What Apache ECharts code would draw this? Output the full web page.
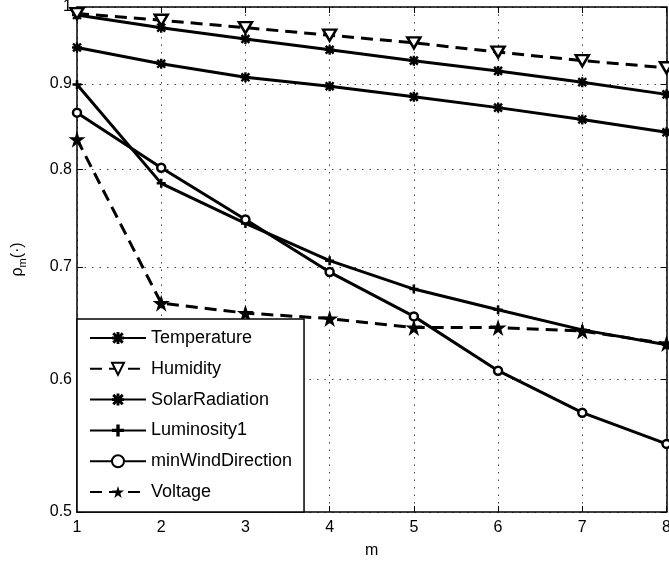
<!DOCTYPE html>
<html>
<head>
<meta charset="utf-8">
<script src="https://cdn.jsdelivr.net/npm/echarts@6/dist/echarts.min.js"></script>
<style>
  html, body { margin: 0; padding: 0; background: #fff; }
  #chart { width: 669px; height: 566px; }
</style>
</head>
<body>
<div id="chart"></div>
<script>
// Window length m on the horizontal axis
const ms = [1, 2, 3, 4, 5, 6, 7, 8];
// Labelled ticks of the logarithmic rho axis
const yTicks = [0.5, 0.6, 0.7, 0.8, 0.9, 1];

// rho_m values per sensor attribute
const temperature      = [0.989, 0.972, 0.957, 0.943, 0.929, 0.916, 0.902, 0.887];
const humidity         = [0.991, 0.982, 0.972, 0.962, 0.952, 0.940, 0.929, 0.920];
const solarRadiation   = [0.946, 0.925, 0.908, 0.897, 0.884, 0.871, 0.857, 0.842];
const luminosity1      = [0.899, 0.785, 0.743, 0.706, 0.679, 0.660, 0.642, 0.629];
const minWindDirection = [0.865, 0.802, 0.747, 0.695, 0.654, 0.607, 0.573, 0.549];
const voltage          = [0.834, 0.666, 0.657, 0.652, 0.644, 0.644, 0.641, 0.630];

const FONT = '"Liberation Sans", Arial, Helvetica, sans-serif';

// Marker shapes
const ASTERISK = 'path://M0,38L100,38L100,62L0,62Z M38,0L62,0L62,100L38,100Z M19,2L98,81L81,98L2,19Z M81,2L98,19L19,98L2,81Z';
const PLUS = 'path://M0,36L100,36L100,64L0,64Z M36,0L64,0L64,100L36,100Z';
const STAR = 'path://M50,0L61.2,34.5L97.6,34.5L68.2,55.9L79.4,90.5L50,69.1L20.6,90.5L31.8,55.9L2.4,34.5L38.8,34.5Z';

// Values are plotted on log10 so the vertical scale is logarithmic
const toLog = v => Math.log10(v);
const logTicks = yTicks.map(toLog);

function lineSeries(name, values, style) {
  return {
    name: name,
    type: 'line',
    data: ms.map((m, i) => [m, toLog(values[i])]),
    clip: false,
    animation: false,
    symbol: style.symbol,
    symbolSize: style.size,
    symbolRotate: style.rotate || 0,
    lineStyle: { color: '#000', width: 3, type: style.dashed ? [12, 7] : 'solid' },
    itemStyle: {
      color: style.hollow ? '#fff' : '#000',
      borderColor: '#000',
      borderWidth: style.hollow ? 2.5 : 0
    },
    emphasis: { disabled: true }
  };
}

const series = [
  lineSeries('Temperature', temperature, { symbol: ASTERISK, size: 10 }),
  lineSeries('Humidity', humidity, { symbol: 'triangle', size: [13, 11], rotate: 180, hollow: true, dashed: true }),
  lineSeries('SolarRadiation', solarRadiation, { symbol: ASTERISK, size: 10 }),
  lineSeries('Luminosity1', luminosity1, { symbol: PLUS, size: 9 }),
  lineSeries('minWindDirection', minWindDirection, { symbol: 'circle', size: 8, hollow: true }),
  lineSeries('Voltage', voltage, { symbol: STAR, size: 17, dashed: true })
];

const dotted = { show: true, lineStyle: { color: '#444', width: 1, type: [1.5, 6] } };
const insideTick = { show: true, inside: true, length: 6, lineStyle: { color: '#000', width: 1 } };
const axisLine = { show: true, onZero: false, lineStyle: { color: '#000', width: 1.5 } };

const chart = echarts.init(document.getElementById('chart'), null, { renderer: 'canvas' });
chart.setOption({
  animation: false,
  backgroundColor: '#fff',
  textStyle: { fontFamily: FONT },
  grid: { left: 77, right: 2.5, top: 7, bottom: 54, containLabel: false, outerBoundsMode: 'none' },
  legend: {
    orient: 'vertical',
    left: 77,
    top: 319,
    padding: [9, 12, 10, 12],
    itemWidth: 56,
    itemHeight: 15,
    itemGap: 10.8,
    backgroundColor: '#fff',
    borderColor: '#000',
    borderWidth: 1.5,
    borderRadius: 0,
    selectedMode: false,
    textStyle: { fontFamily: FONT, fontSize: 18, color: '#000', lineHeight: 20 },
    data: series.map(s => s.name)
  },
  xAxis: [
    {
      type: 'value', min: 1, max: 8, interval: 1,
      name: 'm', nameLocation: 'middle', nameGap: 31,
      nameTextStyle: { fontFamily: FONT, fontSize: 16, color: '#000' },
      axisLine: axisLine, axisTick: insideTick, splitLine: dotted,
      axisLabel: { fontFamily: FONT, fontSize: 16, color: '#000', margin: 8 }
    },
    {
      type: 'value', min: 1, max: 8, interval: 1, position: 'top',
      axisLine: axisLine, axisTick: insideTick, splitLine: { show: false },
      axisLabel: { show: false }
    }
  ],
  yAxis: [
    {
      type: 'value', min: toLog(0.5), max: 0,
      name: '{r|ρ}{s|m}{r|(·)}', nameLocation: 'middle', nameGap: 49,
      nameTextStyle: {
        color: '#000',
        rich: {
          r: { fontFamily: FONT, fontSize: 16, color: '#000' },
          s: { fontFamily: FONT, fontSize: 11, color: '#000', padding: [9, 0, 0, 0] }
        }
      },
      axisLine: axisLine,
      axisTick: Object.assign({ customValues: logTicks }, insideTick),
      splitLine: dotted,
      axisLabel: {
        customValues: logTicks,
        fontFamily: FONT, fontSize: 16, color: '#000', margin: 5,
        formatter: v => String(Math.round(Math.pow(10, v) * 10) / 10)
      }
    },
    {
      type: 'value', min: toLog(0.5), max: 0, position: 'right',
      axisLine: axisLine,
      axisTick: Object.assign({ customValues: logTicks }, insideTick),
      splitLine: { show: false },
      axisLabel: { show: false }
    }
  ],
  series: series
});
</script>
</body>
</html>
